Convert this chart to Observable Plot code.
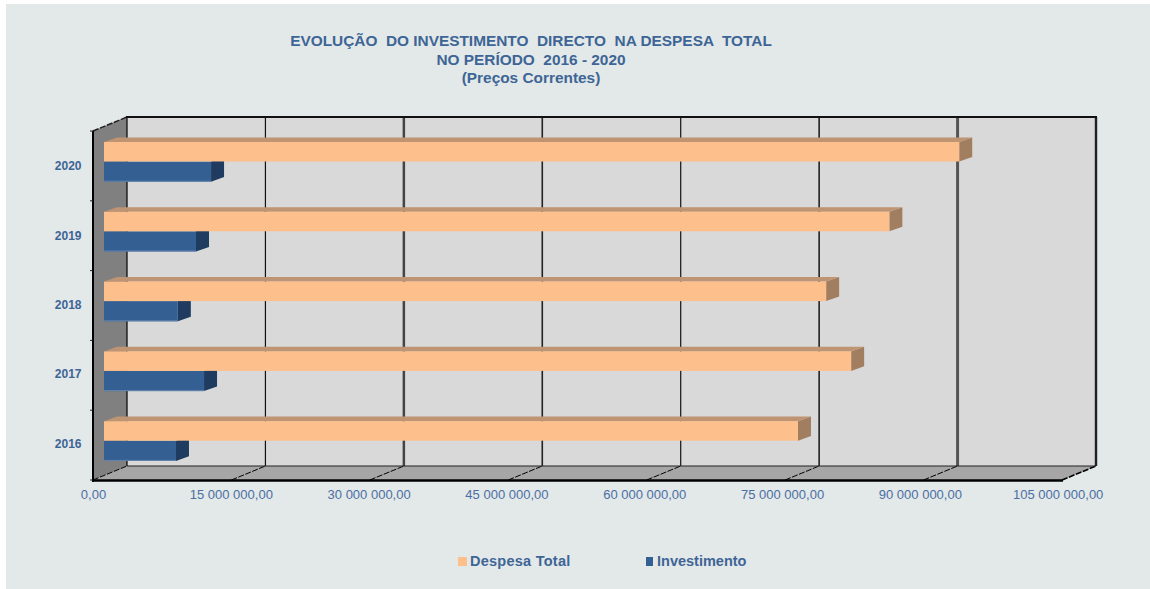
<!DOCTYPE html>
<html>
<head>
<meta charset="utf-8">
<script src="https://cdn.jsdelivr.net/npm/d3@7"></script>
<script src="https://cdn.jsdelivr.net/npm/@observablehq/plot@0.6"></script>
<style>
  html, body { margin: 0; padding: 0; background: #fff; }
  body { width: 1150px; height: 589px; overflow: hidden; position: relative; font-family: "Liberation Sans", Arial, sans-serif; }
  #panel { position: absolute; left: 6px; top: 4px; width: 1144px; height: 585px; background: #E3E8E9; }
  #title { position: absolute; left: 0; width: 1062px; top: 32px; height: 60px; text-align: center; color: #3D6595; font-weight: bold; font-size: 15.4px; line-height: 18.5px; white-space: pre; }
  #chart { position: absolute; left: 0; top: 110px; }
  #chart svg { display: block; background: transparent; }
  .leg { position: absolute; top: 552px; font-size: 14.5px; font-weight: bold; color: #3D6595; line-height: 18px; white-space: pre; }
  .sw { position: absolute; width: 9px; height: 9px; top: 557px; }
</style>
</head>
<body>
<div id="panel"></div>
<div id="title">EVOLUÇÃO  DO INVESTIMENTO  DIRECTO  NA DESPESA  TOTAL
NO PERÍODO  2016 - 2020
(Preços Correntes)</div>
<div id="chart"></div>
<div class="sw" style="left:458px;background:#FDBF8C"></div>
<div class="leg" style="left:470px;letter-spacing:0.25px">Despesa Total</div>
<div class="sw" style="left:646px;width:7px;background:#345F93"></div>
<div class="leg" style="left:657px">Investimento</div>
<script>
const years = ["2020", "2019", "2018", "2017", "2016"];
const despesaTotal = [92670000, 85100000, 78250000, 80960000, 75200000];
const investimento = [11600000, 9970000, 8000000, 10840000, 7800000];
const xTicks = [0, 15000000, 30000000, 45000000, 60000000, 75000000, 90000000, 105000000];
const gridWidths = [1, 1.2, 2.5, 1.6, 1.2, 1.6, 3, 2.4];
const gridColors = ["#111", "#111", "#444", "#222", "#111", "#222", "#555", "#222"];

const despesaRows = years.map((year, i) => ({year, value: despesaTotal[i]}));
const investRows = years.map((year, i) => ({year, value: investimento[i]}));

const W = 1150, H = 430;
const wall = {dx: 34, dy: -14};      // depth of the whole box
const bar = {dx: 13, dy: -4.6};      // depth of a bar
const plane = {dx: 11, dy: -4.5};    // plane in which bar fronts sit
const peach = {insetTop: 15.5, insetBottom: 34.8};
const blue = {insetTop: 35, insetBottom: 14.6};

const poly = (pts, attrs) => {
  const p = d3.create("svg:polygon").attr("points", pts.map(d => d.join(",")).join(" "));
  for (const k in attrs) p.attr(k, attrs[k]);
  return p.node();
};
const seg = (x1, y1, x2, y2, stroke, w, dash) => {
  const l = d3.create("svg:line").attr("x1", x1).attr("y1", y1).attr("x2", x2).attr("y2", y2)
    .attr("stroke", stroke).attr("stroke-width", w);
  if (dash) l.attr("stroke-dasharray", dash);
  return l.node();
};

// Box of the 3D chart: walls, floor, gridlines, all located by the x and y scales
function box(index, scales, values, dim) {
  const g = d3.create("svg:g");
  const x = scales.x, top = dim.marginTop, bot = dim.height - dim.marginBottom;
  const x0 = x(0), x1 = x(105000000);
  const add = n => g.append(() => n);
  add(poly([[x0 + wall.dx, top + wall.dy], [x1 + wall.dx, top + wall.dy], [x1 + wall.dx, bot + wall.dy], [x0 + wall.dx, bot + wall.dy]], {fill: "#D9D9D9"}));
  add(poly([[x0, top], [x0 + wall.dx, top + wall.dy], [x0 + wall.dx, bot + wall.dy], [x0, bot]], {fill: "#808080"}));
  add(poly([[x0, bot], [x0 + wall.dx, bot + wall.dy], [x1 + wall.dx, bot + wall.dy], [x1, bot]], {fill: "#A6A6A6"}));
  xTicks.forEach((t, i) => {
    const px = x(t) + wall.dx;
    if (i > 0 && i < xTicks.length - 1) add(seg(px, top + wall.dy, px, bot + wall.dy, gridColors[i], gridWidths[i]));
    add(seg(x(t), bot, px, bot + wall.dy, "#000", i === xTicks.length - 1 ? 1.6 : 1, "6 1.5"));
  });
  add(seg(x0 + wall.dx, top + wall.dy, x0 + wall.dx, bot + wall.dy, "#000", 1.2));
  add(seg(x1 + wall.dx, top + wall.dy, x1 + wall.dx, bot + wall.dy, "#222", 2.4));
  add(seg(x0 + wall.dx - 1, top + wall.dy, x1 + wall.dx + 1, top + wall.dy, "#111", 2));
  add(seg(x0 + wall.dx, bot + wall.dy, x1 + wall.dx, bot + wall.dy, "#222", 1.2));
  add(seg(x0, top, x0 + wall.dx, top + wall.dy, "#222", 1.5, "6 1.5"));
  add(seg(x0, top, x0, bot + 2, "#000", 2));
  add(seg(x0 - 1, bot + 0.5, x1 + 1, bot + 0.5, "#000", 2.6));
  const step = (bot - top) / years.length;
  d3.range(years.length + 1).forEach(i => add(seg(x0 - 3, top + i * step, x0, top + i * step, "#222", 1)));
  return g.node();
}

// Side and top faces of the bars, drawn from the same values through the scales
function faces(rows, style, withTop) {
  return (index, scales) => {
    const g = d3.create("svg:g");
    const bw = scales.scales.y.bandwidth;
    for (const r of rows) {
      const y0 = scales.y(r.year);
      const xa = scales.x(0) + plane.dx, xb = scales.x(r.value) + plane.dx;
      const yt = y0 + plane.dy + style.insetTop;
      const yb = y0 + bw + plane.dy - style.insetBottom;
      g.append(() => poly([[xb, yt], [xb + bar.dx, yt + bar.dy], [xb + bar.dx, yb + bar.dy], [xb, yb]], {fill: style.side}));
      if (withTop) g.append(() => poly([[xa, yt], [xa + bar.dx, yt + bar.dy], [xb + bar.dx, yt + bar.dy], [xb, yt]], {fill: style.top}));
    }
    return g.node();
  };
}

// Pale lower edge of the blue bars, as in the reference
function lowerEdge(rows, style, stroke) {
  return (index, scales) => {
    const g = d3.create("svg:g");
    const bw = scales.scales.y.bandwidth;
    for (const r of rows) {
      const yb = scales.y(r.year) + bw + plane.dy - style.insetBottom - 0.5;
      g.append(() => seg(scales.x(0) + plane.dx, yb, scales.x(r.value) + plane.dx, yb, stroke, 1));
    }
    return g.node();
  };
}

const chart = Plot.plot({
  width: W,
  height: H,
  marginLeft: 93,
  marginRight: 88,
  marginTop: 21,
  marginBottom: 60,
  style: {background: "transparent", fontFamily: "'Liberation Sans', Arial, sans-serif", overflow: "visible"},
  x: {domain: [0, 105000000], label: null},
  y: {type: "band", domain: years, padding: 0, round: false, label: null},
  marks: [
    box,
    faces(investRows, {...blue, side: "#1F3B60"}, false),
    Plot.barX(investRows, {x: "value", y: "year", fill: "#345F93", dx: plane.dx, dy: plane.dy, ...blue}),
    lowerEdge(investRows, blue, "#6686AE"),
    faces(despesaRows, {...peach, side: "#A07E5F", top: "#BE9472"}, true),
    Plot.barX(despesaRows, {x: "value", y: "year", fill: "#FDBF8C", dx: plane.dx, dy: plane.dy, ...peach}),
    Plot.axisX({
      ticks: xTicks,
      tickSize: 0,
      tickPadding: 9,
      label: null,
      fill: "#4A6FA3",
      fontSize: 13,
      tickFormat: d => d3.format(",.2f")(d).replace(/,/g, " ").replace(".", ",")
    }),
    Plot.axisY({
      tickSize: 0,
      tickPadding: 12,
      label: null,
      fill: "#3D6595",
      fontSize: 12,
      fontWeight: "bold"
    })
  ]
});
// The reference's tick labels drift slightly from its ticks: nudge the text only
d3.select(chart).selectAll('[aria-label="x-axis tick label"] text').attr("dx", (d, i) => -0.62 * i);
d3.select(chart).selectAll('[aria-label="y-axis tick label"] text').attr("dy", function (d, i) {
  return (+d3.select(this).attr("dy") || 0) - 0.45 * i;
});
document.getElementById("chart").append(chart);
</script>
</body>
</html>
